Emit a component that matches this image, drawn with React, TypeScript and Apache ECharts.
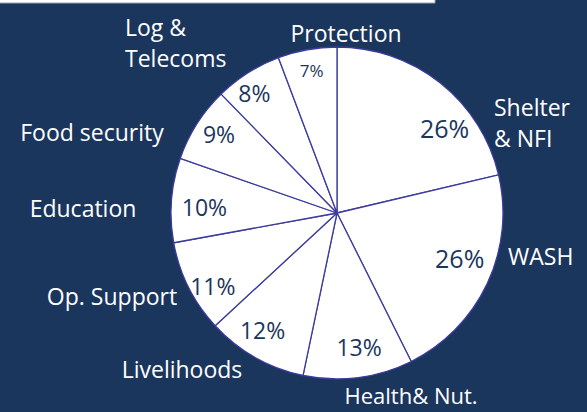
import React, { useEffect, useRef } from "react";
import * as echarts from "echarts";

const categories = [
  "Shelter\n& NFI",
  "WASH",
  "Health& Nut.",
  "Livelihoods",
  "Op. Support",
  "Education",
  "Food security",
  "Log &\nTelecoms",
  "Protection",
];
const values = [26, 26, 13, 12, 11, 10, 9, 8, 7];

const NAVY = "#1b365d";
const BORDER = "#3c3c9e";
const FONT = "Open Sans";

// hand-placed outside label anchors (x, y, align), as in the reference
const OUTER_LABEL_LAYOUT: [number, number, string][] = [
  [494, 122, "left"],
  [508, 256, "left"],
  [411, 395, "center"],
  [182, 369, "center"],
  [112, 296, "center"],
  [83, 208, "center"],
  [92, 132, "center"],
  [125, 42, "left"],
  [346, 33, "center"],
];
// small nudges of the inside percentage labels
const INNER_LABEL_NUDGE: [number, number][] = [
  [20, 26],
  [-5, -15],
  [4, -6],
  [-5, -6],
  [2, 10],
  [8, 5],
  [1, -3],
  [-7, -1],
  [0, -4],
];

export default function App() {
  const ref = useRef<HTMLDivElement>(null);
  useEffect(() => {
    if (!ref.current) return;
    const chart = echarts.init(ref.current, undefined, { renderer: "svg" });
    const data = categories.map((name, i) => ({ name, value: values[i] }));
    chart.setOption({
      animation: false,
      backgroundColor: NAVY,
      graphic: [
        {
          type: "rect",
          shape: { x: -1, y: -1, width: 436, height: 4 },
          style: { fill: "#ffffff", stroke: "#9aa3b0", lineWidth: 1 },
        },
      ],
      series: [
        {
          type: "pie",
          center: [337, 213],
          radius: [0, 166],
          startAngle: 90,
          clockwise: true,
          avoidLabelOverlap: false,
          data: data.map((d) => ({
            ...d,
            label: d.name.includes("\n")
              ? { lineHeight: 31 }
              : d.name.startsWith("Health")
              ? { fontSize: 22 }
              : {},
          })),
          itemStyle: { color: "#ffffff", borderColor: BORDER, borderWidth: 1.3 },
          label: {
            show: true,
            position: "outside",
            formatter: "{b}",
            color: "#ffffff",
            fontFamily: FONT,
            fontSize: 23,
            lineHeight: 24,
          },
          labelLine: { show: false },
          labelLayout: (p: any) => {
            const l = OUTER_LABEL_LAYOUT[p.dataIndex];
            return {
              x: l[0],
              y: l[1],
              align: l[2],
              verticalAlign: "middle",
              hideOverlap: false,
            };
          },
          emphasis: { disabled: true },
        },
        {
          type: "pie",
          center: [337, 213],
          radius: [110, 166],
          startAngle: 90,
          clockwise: true,
          silent: true,
          avoidLabelOverlap: false,
          data: data.map((d, i) => ({
            ...d,
            label: i === values.length - 1 ? { fontSize: 17 } : i < 2 ? { fontSize: 25 } : {},
          })),
          itemStyle: { color: "rgba(0,0,0,0)", borderWidth: 0 },
          label: {
            show: true,
            position: "inside",
            formatter: "{c}%",
            color: NAVY,
            fontFamily: FONT,
            fontSize: 23,
          },
          labelLine: { show: false },
          labelLayout: (p: any) => {
            const n = INNER_LABEL_NUDGE[p.dataIndex];
            return { dx: n[0], dy: n[1], hideOverlap: false };
          },
          emphasis: { disabled: true },
        },
      ],
    });
    return () => chart.dispose();
  }, []);
  return (
    <div
      ref={ref}
      style={{ position: "fixed", left: 0, top: 0, width: 587, height: 412 }}
    />
  );
}
